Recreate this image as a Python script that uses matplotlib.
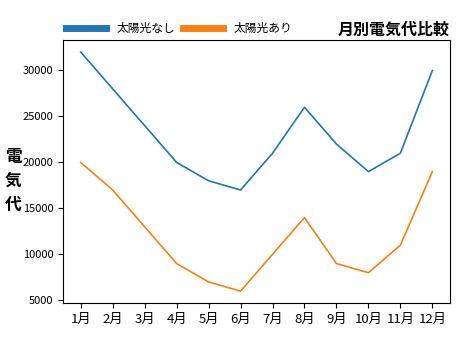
import matplotlib.pyplot as plt
from matplotlib.lines import Line2D

plt.rcParams['font.family'] = ['Noto Sans CJK JP', 'DejaVu Sans']

months = [f"{m}月" for m in range(1, 13)]
no_solar = [32000, 28000, 24000, 20000, 18000, 17000,
            21000, 26000, 22000, 19000, 21000, 30000]
with_solar = [20000, 17000, 13000, 9000, 7000, 6000,
              10000, 14000, 9000, 8000, 11000, 19000]

fig, ax = plt.subplots(figsize=(4.61, 3.46), dpi=100)
fig.subplots_adjust(left=0.137, right=0.976, top=0.884, bottom=0.124)

x = range(len(months))
ax.plot(x, no_solar, color='#1f77b4', linewidth=1.2)
ax.plot(x, with_solar, color='#ff7f0e', linewidth=1.2)

ax.set_xticks(list(x))
ax.set_xticklabels(months, fontsize=9.5)
ax.tick_params(axis='y', labelsize=8)
ax.set_ylabel("電\n気\n代", rotation=0, fontsize=12, fontweight='bold',
              va='center', ha='center', linespacing=1.45)
ax.yaxis.set_label_coords(-0.13, 0.465)
ax.set_title("月別電気代比較", loc='right', fontsize=11.5, fontweight='bold',
             pad=4)

handles = [Line2D([], [], color='#1f77b4', linewidth=5),
           Line2D([], [], color='#ff7f0e', linewidth=5)]
ax.legend(handles, ["太陽光なし", "太陽光あり"], ncol=2, frameon=False,
          fontsize=8.5, handlelength=3.4, columnspacing=0.6,
          loc='lower left', bbox_to_anchor=(-0.005, 1.0),
          borderaxespad=0, handletextpad=0.9)

fig.savefig('out.png')
